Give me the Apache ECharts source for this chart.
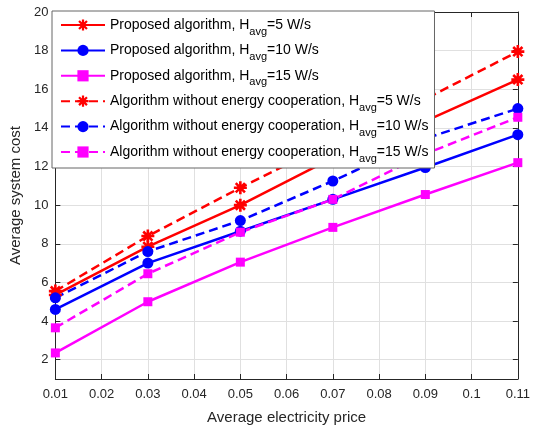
<!DOCTYPE html>
<html>
<head>
<meta charset="utf-8">
<script src="https://cdn.jsdelivr.net/npm/echarts@6/dist/echarts.min.js"></script>
<style>
  html, body { margin: 0; padding: 0; background: #fff; }
  #chart { width: 533px; height: 431px; }
</style>
</head>
<body>
<div id="chart"></div>
<script>
// average electricity price (x)
const prices = [0.01, 0.03, 0.05, 0.07, 0.09, 0.11]
const yTicks = [2, 4, 6, 8, 10, 12, 14, 16, 18, 20]

// proposed algorithm
const proposed5 = [5.35, 7.85, 10.0, 12.45, 14.35, 16.5]
const proposed10 = [4.6, 7.0, 8.65, 10.3, 11.95, 13.65]
const proposed15 = [2.35, 5.0, 7.05, 8.85, 10.55, 12.2]
// algorithm without energy cooperation
const noCoop5 = [5.55, 8.4, 10.9, 13.3, 15.5, 17.95]
const noCoop10 = [5.2, 7.6, 9.2, 11.25, 13.45, 15.0]
const noCoop15 = [3.65, 6.45, 8.6, 10.3, 12.65, 14.55]

const names = [
  'Proposed algorithm, Havg=5 W/s',
  'Proposed algorithm, Havg=10 W/s',
  'Proposed algorithm, Havg=15 W/s',
  'Algorithm without energy cooperation, Havg=5 W/s',
  'Algorithm without energy cooperation, Havg=10 W/s',
  'Algorithm without energy cooperation, Havg=15 W/s'
]

const FONT = '"Liberation Sans", Arial, Helvetica, sans-serif'
// matlab style '*' marker, drawn as four filled bars
const ASTERISK = 'path://M0 8L20 8L20 12L0 12Z M8 0L12 0L12 20L8 20Z ' +
  'M1.51 4.34L4.34 1.51L18.49 15.66L15.66 18.49Z M15.66 1.51L18.49 4.34L4.34 18.49L1.51 15.66Z'

function makeSeries(name, values, color, symbol, size, dashed) {
  return {
    name: name,
    type: 'line',
    data: prices.map((p, i) => [p, values[i]]),
    symbol: symbol,
    symbolSize: size,
    showAllSymbol: true,
    animation: false,
    itemStyle: { color: color },
    lineStyle: { color: color, width: 2.5, type: dashed ? [9, 5] : 'solid' }
  }
}

const chart = echarts.init(document.getElementById('chart'))

const hiddenAxis = {
  type: 'value',
  axisLine: { show: true, lineStyle: { color: '#262626' } },
  axisTick: { show: true, inside: true, length: 5, lineStyle: { color: '#262626' } },
  axisLabel: { show: false },
  splitLine: { show: false }
}

chart.setOption({
  animation: false,
  textStyle: { fontFamily: FONT },
  grid: { left: 51, right: 13, top: 12, bottom: 52, containLabel: false },
  legend: {
    data: names,
    orient: 'vertical',
    left: 52,
    top: 11,
    padding: [2, 6, 4, 8],
    itemGap: 1.4,
    itemWidth: 44,
    itemHeight: 14,
    backgroundColor: '#fff',
    borderColor: '#666',
    borderWidth: 1,
    formatter: name => name.replace('Havg', 'H{sub|avg}'),
    textStyle: {
      fontFamily: FONT,
      fontSize: 14,
      color: '#000',
      lineHeight: 24,
      rich: {
        sub: { fontFamily: FONT, fontSize: 11, lineHeight: 10, verticalAlign: 'bottom', color: '#000' }
      }
    }
  },
  xAxis: [
    {
      type: 'value',
      min: 0.01,
      max: 0.11,
      interval: 0.01,
      name: 'Average electricity price',
      nameLocation: 'middle',
      nameGap: 31,
      nameTextStyle: { fontFamily: FONT, fontSize: 15, color: '#262626' },
      axisLine: { show: true, lineStyle: { color: '#262626' } },
      axisTick: { show: true, inside: true, length: 5, lineStyle: { color: '#262626' } },
      axisLabel: {
        margin: 9,
        fontFamily: FONT,
        fontSize: 13,
        color: '#262626',
        formatter: v => String(+v.toFixed(2))
      },
      splitLine: { show: true, lineStyle: { color: '#e0e0e0', width: 1 } }
    },
    Object.assign({}, hiddenAxis, { position: 'top', min: 0.01, max: 0.11, interval: 0.01 })
  ],
  yAxis: [
    {
      type: 'value',
      min: 1,
      max: 20,
      name: 'Average system cost',
      nameLocation: 'middle',
      nameGap: 28,
      nameTextStyle: { fontFamily: FONT, fontSize: 15, color: '#262626' },
      axisLine: { show: true, lineStyle: { color: '#262626' } },
      axisTick: { show: true, inside: true, length: 5, customValues: yTicks, lineStyle: { color: '#262626' } },
      axisLabel: { margin: 7, fontFamily: FONT, fontSize: 13, color: '#262626', customValues: yTicks },
      splitLine: { show: true, lineStyle: { color: '#e0e0e0', width: 1 } }
    },
    Object.assign({}, hiddenAxis, {
      position: 'right', min: 1, max: 20,
      axisTick: Object.assign({}, hiddenAxis.axisTick, { customValues: yTicks })
    })
  ],
  series: [
    makeSeries(names[0], proposed5, '#ff0000', ASTERISK, 13, false),
    makeSeries(names[1], proposed10, '#0000ff', 'circle', 11, false),
    makeSeries(names[2], proposed15, '#ff00ff', 'rect', 9, false),
    makeSeries(names[3], noCoop5, '#ff0000', ASTERISK, 13, true),
    makeSeries(names[4], noCoop10, '#0000ff', 'circle', 11, true),
    makeSeries(names[5], noCoop15, '#ff00ff', 'rect', 9, true)
  ]
})
</script>
</body>
</html>
